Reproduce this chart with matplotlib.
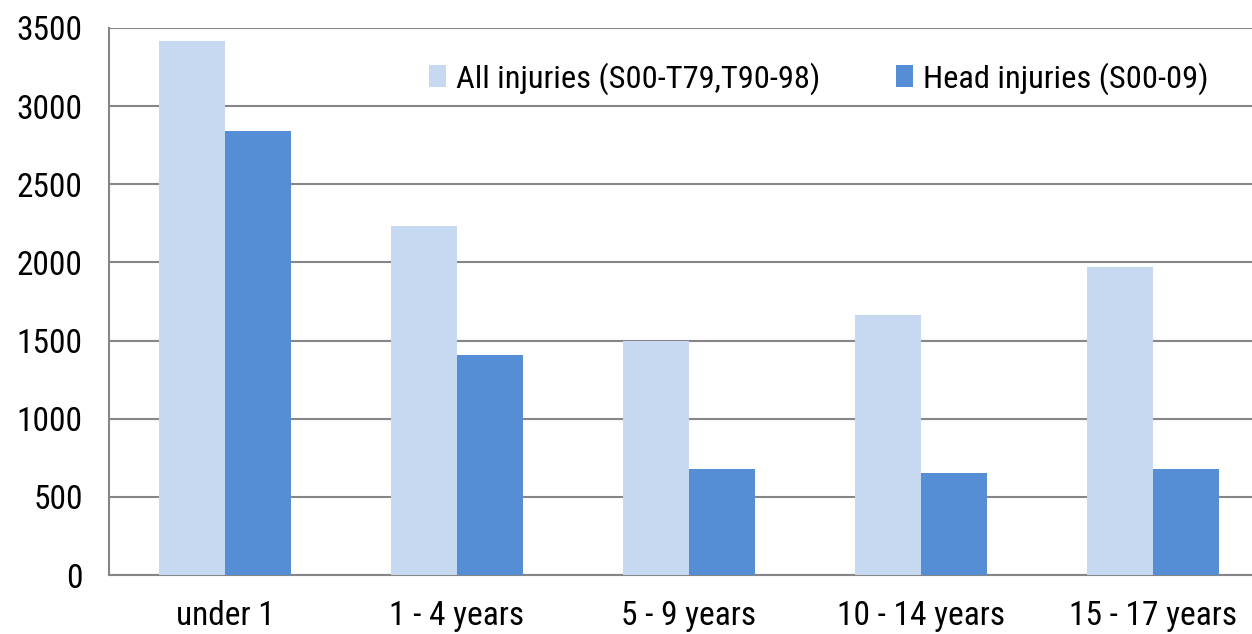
import matplotlib.pyplot as plt
import numpy as np

categories = ["under 1", "1 - 4 years", "5 - 9 years", "10 - 14 years", "15 - 17 years"]
all_injuries = [3420, 2235, 1500, 1665, 1972]
head_injuries = [2840, 1410, 678, 650, 678]
series_names = ["All injuries (S00-T79,T90-98)", "Head injuries (S00-09)"]

plt.rcParams["font.family"] = ["Roboto Condensed", "Liberation Sans", "DejaVu Sans"]

fig = plt.figure(figsize=(12.52, 6.34), dpi=100, facecolor="white")
# plot area runs past the right edge of the image, as in the original
ax = fig.add_axes([109 / 1252, 59 / 634, 1160 / 1252, 547 / 634])

x = np.arange(len(categories))
w = 0.285
ax.bar(x - w / 2, all_injuries, w, color="#C6D9F1", label=series_names[0], zorder=3)
ax.bar(x + w / 2, head_injuries, w, color="#558ED5", label=series_names[1], zorder=3)

ax.set_xlim(-0.5, len(categories) - 0.5)
ax.set_ylim(0, 3500)
ax.set_yticks(np.arange(0, 3501, 500))
ax.set_xticks(x)
ax.set_xticklabels(categories)
ax.yaxis.grid(True, color="#868686", linewidth=1.5, zorder=0)
ax.tick_params(axis="both", length=0, labelsize=24)
ax.tick_params(axis="x", pad=18)
ax.tick_params(axis="y", pad=19)

for side in ["top", "right"]:
    ax.spines[side].set_visible(False)
for side in ["left", "bottom"]:
    ax.spines[side].set_color("#868686")
    ax.spines[side].set_linewidth(1.5)

ax.legend(loc="upper left", bbox_to_anchor=(0.276, 0.938), ncol=2, frameon=False,
          borderaxespad=0, borderpad=0,
          fontsize=23.4, handlelength=0.52, handleheight=0.7, handletextpad=0.3,
          columnspacing=2.35)

fig.savefig("out.png", dpi=100)
